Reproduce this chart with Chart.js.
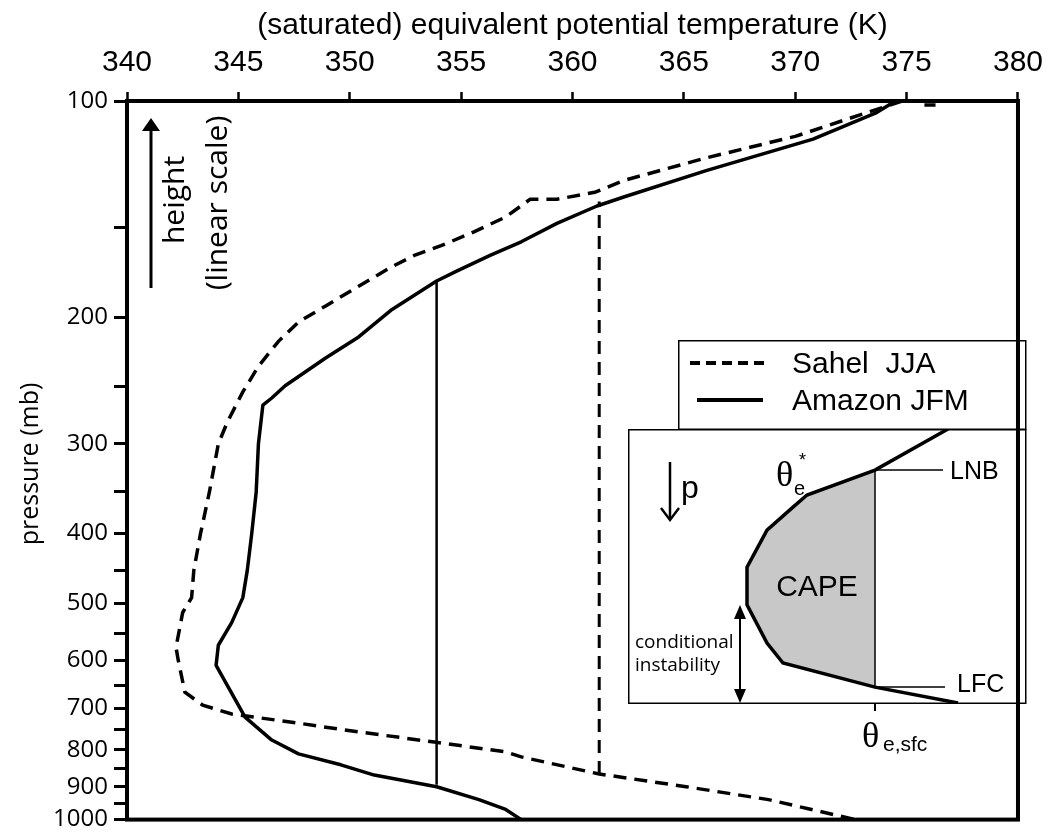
<!DOCTYPE html>
<html>
<head>
<meta charset="utf-8">
<script src="https://cdn.jsdelivr.net/npm/chart.js@4.4.1/dist/chart.umd.min.js"></script>
<style>
  body { margin: 0; background: #fff; }
  #wrap { position: relative; width: 1054px; height: 840px; overflow: hidden; }
  canvas { position: absolute; }
  .t { position: absolute; color: #000; white-space: pre; line-height: 1; font-family: "Liberation Sans", Arial, sans-serif; }
  .myr { font-family: "Open Sans", sans-serif; }
  .serif { font-family: "Liberation Serif", serif; }
  .rot { transform: translate(-50%, -50%) rotate(-90deg); }
  svg { position: absolute; left: 0; top: 0; }
</style>
</head>
<body>
<div id="wrap">
  <canvas id="main" width="1054" height="840" style="left:0;top:0"></canvas>
  <canvas id="inset" width="398" height="274" style="left:628px;top:429px"></canvas>

  <svg width="1054" height="840">
    <!-- legend box + inset box -->
    <rect x="678.75" y="340.75" width="347" height="88.5" fill="none" stroke="#000" stroke-width="1.5"/>
    <rect x="628.75" y="429.75" width="397" height="273.5" fill="none" stroke="#000" stroke-width="1.5"/>
    <line x1="690" y1="363" x2="767" y2="363" stroke="#000" stroke-width="4" stroke-dasharray="10 6"/>
    <line x1="697" y1="400" x2="763" y2="400" stroke="#000" stroke-width="4"/>
    <!-- height arrow -->
    <line x1="151" y1="288" x2="151" y2="128" stroke="#000" stroke-width="3"/>
    <polygon points="151,118 142,131 160,131" fill="#000"/>
    <!-- down p arrow -->
    <line x1="670" y1="462" x2="670" y2="519" stroke="#000" stroke-width="2.5"/>
    <polyline points="661,508 670,520 679,508" fill="none" stroke="#000" stroke-width="2.5"/>
    <!-- conditional instability arrow -->
    <line x1="740" y1="614" x2="740" y2="694" stroke="#000" stroke-width="2"/>
    <polygon points="740,605 734,619 746,619" fill="#000"/>
    <polygon points="740,703 734,689 746,689" fill="#000"/>
    <!-- theta_e,sfc tick -->
    <line x1="875" y1="703" x2="875" y2="711" stroke="#000" stroke-width="2"/>
  </svg>

  <div class="t myr rot" style="left:28px;top:464px;font-size:25px">pressure (mb)</div>
  <div class="t myr rot" style="left:173px;top:200px;font-size:30px">height</div>
  <div class="t myr rot" style="left:216px;top:203px;font-size:30px">(linear scale)</div>

  <div class="t" style="left:792px;top:348px;font-size:30px">Sahel  JJA</div>
  <div class="t" style="left:792px;top:385px;font-size:30px">Amazon JFM</div>

  <div class="t serif" style="left:776px;top:456px;font-size:36px">θ</div>
  <div class="t" style="left:799px;top:451px;font-size:18px">*</div>
  <div class="t" style="left:794px;top:478px;font-size:20px">e</div>
  <div class="t" style="left:681px;top:471px;font-size:32px">p</div>
  <div class="t" style="left:817px;top:571px;font-size:30px;transform:translateX(-50%)">CAPE</div>
  <div class="t" style="left:950px;top:458px;font-size:25px">LNB</div>
  <div class="t" style="left:957px;top:671px;font-size:25px">LFC</div>
  <div class="t myr" style="left:635px;top:630px;font-size:19px;line-height:23px">conditional
instability</div>
  <div class="t serif" style="left:862px;top:717px;font-size:36px">θ</div>
  <div class="t" style="left:883px;top:733px;font-size:21px">e,sfc</div>
</div>

<script>
// profiles, pressure in mb (top to bottom), theta_e in K
const amazonP = [100, 104, 113, 125, 136, 140, 148, 157, 164, 172.5, 178, 195, 213, 228, 249, 259, 265, 300, 350, 400, 450, 491, 532, 572, 610, 720, 775, 810, 839, 867, 900, 938, 968, 1000];
const amazonT = [374.5, 373.6, 370.8, 366.0, 362.3, 361.1, 359.3, 357.7, 356.3, 354.8, 353.9, 351.9, 350.4, 348.9, 347.1, 346.5, 346.1, 345.9, 345.8, 345.6, 345.4, 345.2, 344.7, 344.1, 344.0, 345.3, 346.5, 347.7, 349.6, 351.1, 353.9, 355.8, 357.0, 357.7];

const sahelP = [100, 112, 120, 129, 134, 137, 137, 145, 152, 159, 164, 170, 181, 193, 203, 216, 234, 254, 280, 300, 350, 400, 450, 491, 515, 576, 600, 665, 693, 713, 732, 755, 780, 805, 818, 864, 900, 938, 1000];
const sahelT = [374.8, 370.0, 366.0, 362.3, 361.0, 359.3, 358.1, 357.0, 355.6, 354.1, 352.9, 351.9, 350.4, 348.9, 347.7, 346.8, 345.9, 345.2, 344.5, 344.1, 343.7, 343.3, 343.0, 342.9, 342.5, 342.2, 342.3, 342.6, 343.4, 344.7, 347.4, 350.4, 353.8, 357.0, 357.7, 361.2, 365.1, 368.8, 372.7];
// short stray piece of the Sahel curve just under the top edge
const sahelTopT = [375.8, 376.3];
const sahelTopP = [101.3, 101.3];

// parcel lines (surface-based theta_e lifted from LFC to LNB)
const amazonParcelT = 353.9;
const amazonParcelP = [894, 178];
const sahelParcelT = 361.2;
const sahelParcelP = [864, 138];

// axis ticks
const xTicks = [340, 345, 350, 355, 360, 365, 370, 375, 380];
const yTicks = [100, 150, 200, 250, 300, 350, 400, 450, 500, 550, 600, 650, 700, 750, 800, 850, 900, 950, 1000];

// inset schematic (arbitrary units)
const insetTheta = [32.0, 24.7, 17.9, 16.5, 13.9, 11.9, 11.9, 13.9, 15.5, 24.7, 33.0];
const insetP = [0, 15.0, 24.1, 28.5, 36.9, 50.4, 64.2, 78.1, 85.4, 94.2, 100];
const thetaSfc = 24.7;
const lnbIndex = 1;
const lfcIndex = 9;
const markEnd = [31.5, 31.7];

function pts(xs, ys) {
    return xs.map((x, i) => ({ x: x, y: ys[i] }));
}

const framePlugin = {
    id: 'frame',
    afterDraw(chart) {
        const a = chart.chartArea;
        const ctx = chart.ctx;
        ctx.save();
        ctx.strokeStyle = '#000';
        ctx.lineWidth = 4;
        ctx.strokeRect(a.left, a.top, a.right - a.left, a.bottom - a.top);
        ctx.restore();
    }
};

Chart.defaults.font.family = '"Liberation Sans", Arial, sans-serif';
Chart.defaults.color = '#000';

new Chart(document.getElementById('main'), {
    type: 'line',
    data: {
        datasets: [
            {
                label: 'Amazon parcel',
                data: pts([amazonParcelT, amazonParcelT], amazonParcelP),
                borderColor: '#000', borderWidth: 2.5, pointRadius: 0
            },
            {
                label: 'Sahel parcel',
                data: pts([sahelParcelT, sahelParcelT], sahelParcelP),
                borderColor: '#000', borderWidth: 3, borderDash: [13, 8], pointRadius: 0
            },
            {
                label: 'Amazon JFM',
                data: pts(amazonT, amazonP),
                borderColor: '#000', borderWidth: 3.5, pointRadius: 0, borderJoinStyle: 'round'
            },
            {
                label: 'Sahel JJA',
                data: pts(sahelT, sahelP),
                borderColor: '#000', borderWidth: 3.5, borderDash: [13, 8], pointRadius: 0
            },
            {
                label: 'Sahel top',
                data: pts(sahelTopT, sahelTopP),
                borderColor: '#000', borderWidth: 3.5, pointRadius: 0
            }
        ]
    },
    options: {
        responsive: false,
        animation: false,
        layout: { padding: { left: 0, top: 0, right: 28, bottom: 16 } },
        plugins: { legend: { display: false }, tooltip: { enabled: false } },
        scales: {
            x: {
                type: 'linear',
                position: 'top',
                min: 340,
                max: 380,
                afterBuildTicks: (s) => { s.ticks = xTicks.map(v => ({ value: v })); },
                afterFit: (s) => { s.height = 101; },
                ticks: { font: { size: 30 }, padding: 11, maxRotation: 0, autoSkip: false },
                grid: { drawOnChartArea: false, tickLength: 9, tickWidth: 2.5, tickColor: '#000' },
                border: { display: false },
                title: {
                    display: true,
                    text: '(saturated) equivalent potential temperature (K)',
                    font: { size: 30 },
                    padding: { top: 8, bottom: 0 }
                }
            },
            y: {
                type: 'logarithmic',
                reverse: true,
                min: 100,
                max: 1000,
                afterBuildTicks: (s) => { s.ticks = yTicks.map(v => ({ value: v })); },
                afterFit: (s) => { s.width = 127; },
                ticks: {
                    font: { family: '"Open Sans", sans-serif', size: 24 },
                    padding: 6,
                    autoSkip: false,
                    callback: (v) => (v % 100 === 0 ? String(v) : '')
                },
                grid: { drawOnChartArea: false, tickLength: 13, tickWidth: 3, tickColor: '#000' },
                border: { display: false },
                title: { display: false }
            }
        }
    },
    plugins: [framePlugin]
});

// inset: schematic CAPE diagram (first dataset is drawn on top)
const curve = pts(insetTheta, insetP);
const lnbP = insetP[lnbIndex];
const lfcP = insetP[lfcIndex];

new Chart(document.getElementById('inset'), {
    type: 'line',
    data: {
        datasets: [
            {
                label: 'theta_e*',
                data: curve,
                borderColor: '#000', borderWidth: 3.5, pointRadius: 0
            },
            {
                label: 'sfc',
                data: pts([thetaSfc, thetaSfc], [lnbP, lfcP]),
                borderColor: '#000', borderWidth: 1.5, pointRadius: 0
            },
            {
                label: 'LNB',
                data: pts([thetaSfc, markEnd[0]], [lnbP, lnbP]),
                borderColor: '#000', borderWidth: 1.5, pointRadius: 0
            },
            {
                label: 'LFC',
                data: pts([thetaSfc, markEnd[1]], [lfcP, lfcP]),
                borderColor: '#000', borderWidth: 1.5, pointRadius: 0
            },
            {
                label: 'CAPE',
                data: curve.slice(lnbIndex, lfcIndex + 1),
                borderWidth: 0, pointRadius: 0,
                backgroundColor: '#c8c8c8',
                fill: { value: thetaSfc }
            }
        ]
    },
    options: {
        responsive: false,
        animation: false,
        indexAxis: 'y',
        layout: { padding: 0 },
        plugins: { legend: { display: false }, tooltip: { enabled: false } },
        scales: {
            x: { type: 'linear', min: 0, max: 39.8, display: false },
            y: { type: 'linear', min: 0, max: 100, reverse: true, display: false }
        }
    }
});
</script>
</body>
</html>
